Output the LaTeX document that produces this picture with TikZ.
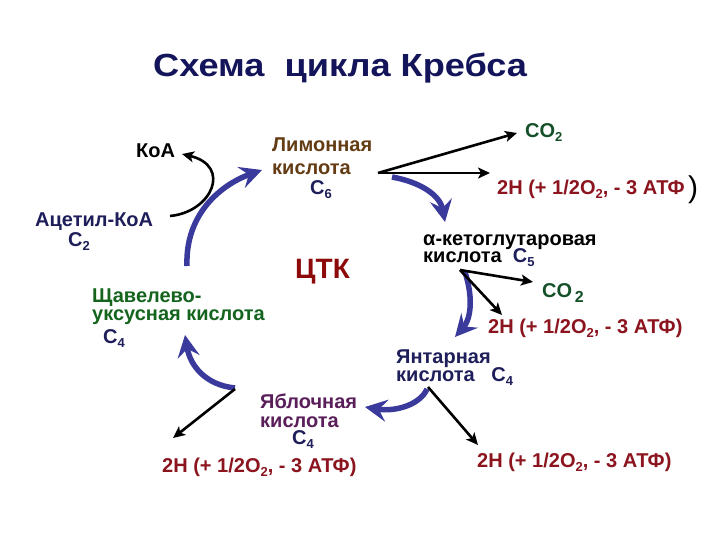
\documentclass[tikz,border=0pt]{standalone}
\usepackage{fontspec}
\setmainfont{Liberation Sans}
\usetikzlibrary{arrows.meta}
\definecolor{titlec}{RGB}{20,20,90}
\definecolor{navy}{RGB}{30,30,90}
\definecolor{brownc}{RGB}{100,60,20}
\definecolor{greenc}{RGB}{20,100,30}
\definecolor{redc}{RGB}{140,10,10}
\definecolor{hc}{RGB}{140,20,30}
\definecolor{coc}{RGB}{20,80,40}
\definecolor{purplec}{RGB}{90,30,90}
\definecolor{bluec}{RGB}{58,58,156}
\newcommand\lo[1]{\raisebox{-4pt}{\fontsize{13}{13}\selectfont #1}}
\newcommand\lines[1]{\begin{tabular}[t]{@{}l@{}}#1\end{tabular}}
\begin{document}
\begin{tikzpicture}[x=1pt,y=-1pt,
  txt/.style={anchor=base west,inner sep=0pt,font=\bfseries\fontsize{20}{19}\selectfont},
  cyc/.style={draw=bluec,line width=5.5pt,-{Stealth[length=22pt,width=22pt,inset=8pt]}},
  side/.style={draw=black,line width=2.6pt,-{Stealth[length=12pt,width=11pt,inset=3pt]}}]
\useasboundingbox (0,0) rectangle (720,540);
\fill[white] (0,0) rectangle (720,540);
% title
\node[anchor=base west,inner sep=0pt,xscale=1.13,font=\bfseries\fontsize{32}{32}\selectfont,text=titlec] (title) at (153,77) {Схема\ \ цикла Кребса};
% left
\node[txt,text=black] (koa) at (136,158) {КоА};
\node[txt,text=navy] (acet) at (35,226) {\lines{Ацетил-КоА\\[1pt]\hspace*{33pt}C\lo{2}}};
\node[txt,text=brownc] (lim) at (272,152) {\lines{Лимонная\\[4pt]кислота\\\hspace*{38pt}\textcolor{navy}{C\lo{6}}}};
\node[txt,text=redc,font=\bfseries\fontsize{28}{28}\selectfont] (ctk) at (295,278) {ЦТК};
\node[txt,text=greenc] (sh) at (92,302) {\lines{Щавелево-\\[-1pt]уксусная кислота}};
\node[txt,text=navy] (c4a) at (103,343) {C\lo{4}};
% bottom
\node[txt,text=hc] (h1) at (162,472) {2H (+ 1/2O\lo{2}, - 3 АТФ)};
\node[txt,text=purplec] (ya) at (260,408) {\lines{Яблочная\\кислота\\[-2pt]\hspace*{32pt}\textcolor{navy}{C\lo{4}}}};
\node[txt,text=hc] (h2) at (477,467) {2H (+ 1/2O\lo{2}, - 3 АТФ)};
\node[txt,text=navy] (yn) at (396,363) {\lines{Янтарная\\[-1pt]кислота\ \ \ C\lo{4}}};
% right
\node[txt,text=coc] (co1) at (525,138) {CO\lo{2}};
\node[txt,text=hc] (h3) at (497,195) {2H (+ 1/2O\lo{2}, - 3 АТФ};
\node[anchor=base west,inner sep=0pt,font=\fontsize{30}{30}\selectfont] (par) at (688,197) {)};
\node[txt,text=black] (ak) at (423,245) {\lines{α-кетоглутаровая\\[-2pt]кислота\ \ \textcolor{navy}{C\lo{5}}}};
\node[txt,text=coc] (co2) at (542,297) {CO\raisebox{-5pt}{\fontsize{16}{16}\selectfont\,2}};
\node[txt,text=hc] (h4) at (488,333) {2H (+ 1/2O\lo{2}, - 3 АТФ)};
% branch points
\coordinate (p1) at (378,173);
\coordinate (p2) at (460,270);
\coordinate (p3) at (428,387);
\coordinate (p4) at (235,389);
% cycle arrows
\draw[cyc] (187,266) .. controls (185,215) and (220,185) .. (262,170);
\draw[cyc] (392,177) .. controls (420,182) and (440,195) .. (445,222);
\draw[cyc] (465,272) .. controls (474,300) and (470,320) .. (455,337);
\draw[cyc] (427,389) .. controls (420,405) and (395,412) .. (365,407);
\draw[cyc] (235,388) .. controls (205,385) and (190,365) .. (185,335);
% side arrows
\draw[side] (170,216) .. controls (212,212) and (232,166) .. (182,154);
\draw[side] (p1) -- (517,133);
\draw[side] (p1) -- (490,173);
\draw[side] (p2) -- (533,282);
\draw[side] (p2) -- (502,315);
\draw[side] (p3) -- (478,445);
\draw[side] (p4) -- (173,438);
\end{tikzpicture}
\end{document}
